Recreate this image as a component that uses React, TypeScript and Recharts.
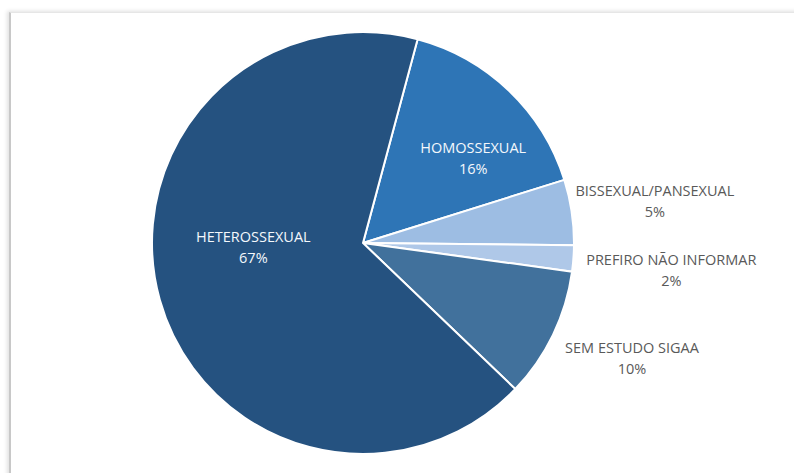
import { Cell, Pie, PieChart } from 'recharts';

const categories = ['HOMOSSEXUAL', 'BISSEXUAL/PANSEXUAL', 'PREFIRO NÃO INFORMAR', 'SEM ESTUDO SIGAA', 'HETEROSSEXUAL'];
const values = [16, 5, 2, 10, 67];
const colors = ['#2E75B6', '#9DBDE3', '#AFC8E8', '#41719C', '#255280'];

const data = categories.map((name, i) => ({ name, value: values[i] }));

const RAD = Math.PI / 180;

// label placement tuned per slice, like Excel's best fit
const labelRadius: Record<string, number> = {
    HOMOSSEXUAL: 0.66,
    'BISSEXUAL/PANSEXUAL': 1.4,
    'PREFIRO NÃO INFORMAR': 1.465,
    'SEM ESTUDO SIGAA': 1.38,
    HETEROSSEXUAL: 0.52,
};
const labelShift: Record<string, number> = {
    HOMOSSEXUAL: -8.5,
    'BISSEXUAL/PANSEXUAL': 0.5,
    'PREFIRO NÃO INFORMAR': 0,
    'SEM ESTUDO SIGAA': 3.3,
    HETEROSSEXUAL: -13.5,
};

const renderLabel = (props: any) => {
    const { cx, cy, midAngle, outerRadius, name, percent } = props;
    const f = labelRadius[name] ?? 0.6;
    const a = midAngle + (labelShift[name] ?? 0);
    const x = cx + outerRadius * f * Math.cos(-a * RAD);
    const y = cy + outerRadius * f * Math.sin(-a * RAD);
    const inside = f < 1;
    const fill = inside ? '#f4f8fc' : '#595959';
    return (
        <text x={x} y={y} textAnchor="middle" fill={fill} fontSize={14.5} fontFamily="'Open Sans', sans-serif">
            <tspan x={x} dy={inside ? -5 : -1}>{name}</tspan>
            <tspan x={x} dy={21}>{Math.round(percent * 100)}%</tspan>
        </text>
    );
};

export default function App() {
    return (
        <div style={{ position: 'fixed', left: 0, top: 0, width: 794, height: 473, background: '#ffffff', overflow: 'hidden' }}>
            <div
                style={{
                    position: 'absolute',
                    left: 9,
                    top: 12,
                    width: 800,
                    height: 480,
                    borderLeft: '2px solid #c8c8c8',
                    borderTop: '1px solid #e6e6e6',
                    boxShadow: '-2px -1px 4px rgba(0,0,0,0.12)',
                }}
            />
            <div style={{ position: 'absolute', left: 0, top: 0 }}>
                <PieChart width={794} height={473} margin={{ top: 0, right: 0, bottom: 0, left: 0 }}>
                    <Pie
                        data={data}
                        dataKey="value"
                        nameKey="name"
                        cx={363}
                        cy={243}
                        outerRadius={211}
                        startAngle={75}
                        endAngle={-285}
                        stroke="#ffffff"
                        strokeWidth={2}
                        label={renderLabel}
                        labelLine={false}
                        isAnimationActive={false}
                    >
                        {data.map((d, i) => (
                            <Cell key={d.name} fill={colors[i]} />
                        ))}
                    </Pie>
                </PieChart>
            </div>
        </div>
    );
}
